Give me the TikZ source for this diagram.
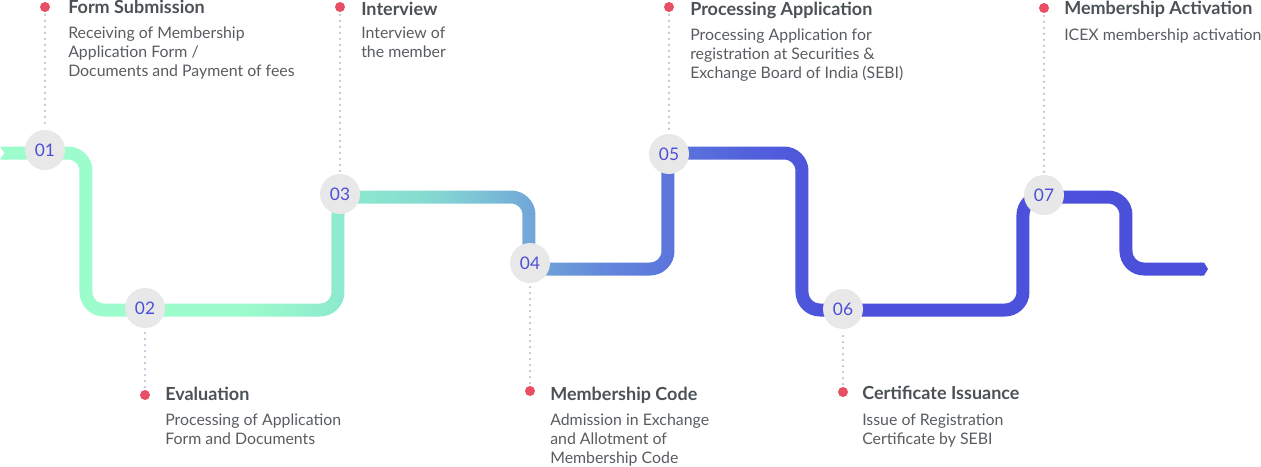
\documentclass[tikz,border=0pt]{standalone}
\usepackage{fontspec}
\setmainfont{Lato}
\usetikzlibrary{positioning, fadings}

\definecolor{pinred}{HTML}{E94F64}
\definecolor{dotgrey}{HTML}{BCC6D6}
\definecolor{stepgrey}{HTML}{E8E8E8}
\definecolor{stepblue}{HTML}{4B4FD6}
\definecolor{headgrey}{HTML}{4B5155}
\definecolor{bodygrey}{HTML}{585C60}

% colour of the road, left to right
\pgfdeclarehorizontalshading{roadshade}{100bp}{
    color(0bp)=(rgb,255:red,157;green,252;blue,203);
    color(34.5bp)=(rgb,255:red,157;green,252;blue,203);
    color(38.5bp)=(rgb,255:red,142;green,234;blue,207);
    color(41.7bp)=(rgb,255:red,134;green,220;blue,208);
    color(44bp)=(rgb,255:red,124;green,195;blue,214);
    color(46bp)=(rgb,255:red,114;green,168;blue,216);
    color(48.8bp)=(rgb,255:red,99;green,136;blue,219);
    color(51.5bp)=(rgb,255:red,92;green,118;blue,220);
    color(54.7bp)=(rgb,255:red,83;green,97;blue,220);
    color(57.9bp)=(rgb,255:red,75;green,81;blue,219);
    color(100bp)=(rgb,255:red,74;green,79;blue,219)}

% shape of the road (box kept symmetric round the origin)
\begin{tikzfadingfrompicture}[name=roadfade, x=0.75pt, y=-0.75pt]
    \path (-1261,-467) rectangle (1261,467);
    \draw[transparent!0, line width=9.75pt, rounded corners=13.5pt]
        (5,153) -- (86,153) -- (86,310) -- (338,310) -- (338,197)
        -- (529,197) -- (529,269) -- (668,269) -- (668,153)
        -- (802,153) -- (802,310) -- (1023,310) -- (1023,197)
        -- (1126,197) -- (1126,269) -- (1201,269);
    \fill[transparent!0] (0,146.5) -- (6,146.5) -- (6,159.5) -- (0,159.5) -- (4.5,153) -- cycle;
    \fill[transparent!0] (1200,262.5) -- (1204,262.5) -- (1208,269) -- (1204,275.5) -- (1200,275.5) -- cycle;
\end{tikzfadingfrompicture}

\begin{document}
\begin{tikzpicture}[
    x=0.75pt, y=-0.75pt,
    stepnum/.style={circle, fill=stepgrey, minimum size=30pt, inner sep=0pt,
        text=stepblue, font=\fontsize{13}{14}\selectfont},
    pin/.style={circle, fill=pinred, minimum size=7.5pt, inner sep=0pt},
    dotline/.style={dotgrey, line width=1.9pt, line cap=round,
        dash pattern=on 0pt off 4.5pt, shorten <=2pt, shorten >=2pt},
    head/.style={anchor=base west, inner sep=0pt, text=headgrey,
        font=\fontsize{13.5}{15}\selectfont\bfseries},
    body/.style={anchor=base west, inner sep=0pt, align=left, text=bodygrey,
        font=\fontsize{11.9}{14.25}\selectfont},
]
    \useasboundingbox (0,0) rectangle (1261,467);

    \shade[shading=roadshade, path fading=roadfade, fit fading=false] (0,0) rectangle (1261,467);

    \node[stepnum] (s1) at (45,150)   {01};
    \node[stepnum] (s2) at (145,308)  {02};
    \node[stepnum] (s3) at (340,194)  {03};
    \node[stepnum] (s4) at (530,263)  {04};
    \node[stepnum] (s5) at (669,154)  {05};
    \node[stepnum] (s6) at (843,309)  {06};
    \node[stepnum] (s7) at (1044,195) {07};

    \node[pin] (p1) at (45,7)    {};
    \node[pin] (p2) at (145,395) {};
    \node[pin] (p3) at (340,7)   {};
    \node[pin] (p4) at (530,391) {};
    \node[pin] (p5) at (669,7)   {};
    \node[pin] (p6) at (843,392) {};
    \node[pin] (p7) at (1044,8)  {};

    \foreach \i in {1,...,7}
        \draw[dotline] (p\i) -- (s\i);

    % top row (body nodes sit on the baseline of their last line)
    \node[head] (h1) at (68,14) {Form Submission};
    \node[body] (b1) at (68,77) {Receiving of Membership\\Application Form /\\Documents and Payment of fees};

    \node[head] (h3) at (361,16) {Interview};
    \node[body] (b3) at (361,58) {Interview of\\the member};

    \node[head] (h5) at (690,16) {Processing Application};
    \node[body] (b5) at (690,79) {Processing Application for\\registration at Securities \&\\Exchange Board of India (SEBI)};

    \node[head] (h7) at (1064,15) {Membership Activation};
    \node[body] (b7) at (1064,41) {ICEX membership activation};

    % bottom row
    \node[head] (h2) at (165,400) {Evaluation};
    \node[body] (b2) at (165,444) {Processing of Application\\Form and Documents};

    \node[head] (h4) at (550,400) {Membership Code};
    \node[body] (b4) at (550,463) {Admission in Exchange\\and Allotment of\\Membership Code};

    \node[head] (h6) at (862,399) {Certificate Issuance};
    \node[body] (b6) at (862,444) {Issue of Registration\\Certificate by SEBI};

\end{tikzpicture}
\end{document}
